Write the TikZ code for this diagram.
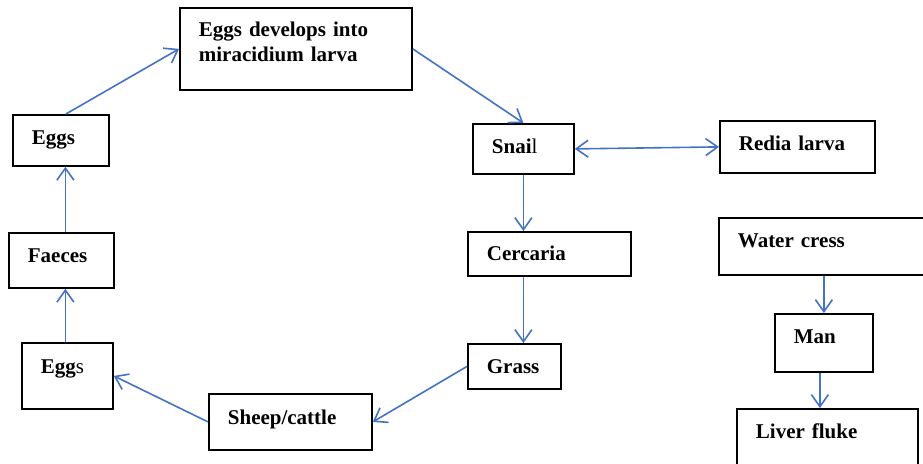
\documentclass[tikz,border=0pt]{standalone}
\usepackage{fontspec}
\setmainfont{Liberation Serif}
\usepackage{xcolor}
\definecolor{cycleblue}{RGB}{68,114,196}
\usepackage{tikz}
\usetikzlibrary{arrows.meta,positioning,calc}

\begin{document}
\begin{tikzpicture}[
  x=1pt, y=1pt,
  stage/.style={rectangle,draw=black,fill=white,line width=1.8pt,
                font=\fontsize{21}{25}\selectfont\bfseries,
                anchor=north west, inner xsep=19pt, inner ysep=0pt,
                align=left, text height=30pt},
  flow/.style={draw=cycleblue, line width=1.6pt,
               -{Straight Barb[length=12pt,width=17pt,line width=1.6pt]}},
  both/.style={flow,
               {Straight Barb[length=12pt,width=17pt,line width=1.6pt]}-{Straight Barb[length=12pt,width=17pt,line width=1.6pt]}},
]
  \useasboundingbox (0,0) rectangle (923,-463);

  %% Cycle in the snail
  \node[stage,text width=194pt,text height=29pt,text depth=53pt](larva) at (179,-7)
    {Eggs develops into\\miracidium larva};
  \node[stage,text width=63pt,text depth=20pt](snail) at (472,-123)
    {Snai{\mdseries l}};
  \node[stage,text width=117pt,text depth=22pt](redia) at (719,-120)
    {Redia larva};
  \node[stage,text width=125pt,text height=29pt,text depth=15pt](cercaria) at (467,-231)
    {Cercaria};

  %% Cycle in the host
  \node[stage,text width=55pt,text depth=15pt](grass) at (467,-343)
    {Grass};
  \node[stage,text width=125pt,text height=31pt,text depth=25pt](sheep) at (208,-393)
    {Sheep/cattle};
  \node[stage,text width=53pt,text height=31pt,text depth=35pt](eggsB) at (21,-342)
    {Egg{\mdseries s}};
  \node[stage,text width=67pt,text depth=25pt](faeces) at (8,-232)
    {Faeces};
  \node[stage,text width=58pt,text depth=21pt](eggsA) at (12,-114)
    {Eggs};

  %% Infection of man
  \node[stage,text width=172pt,text depth=27pt](cress) at (718,-217)
    {Water cress};
  \node[stage,text width=60pt,text depth=28pt](man) at (774,-313)
    {Man};
  \node[stage,text width=143pt,text depth=40pt](fluke) at (736,-408)
    {Liver fluke};

  %% Arrows
  \draw[flow] ([xshift=5pt]eggsA.north) -- (larva.west);
  \draw[flow] (larva.east) -- (snail.north);
  \draw[both] (snail.east) -- (redia.west);
  \draw[flow] (snail.south) -- (snail.south |- cercaria.north);
  \draw[flow] (snail.south |- cercaria.south) -- (snail.south |- grass.north);
  \draw[flow] (grass.west) -- (sheep.east);
  \draw[flow] (sheep.west) -- (eggsB.east);
  \draw[flow] ([xshift=-2pt]eggsB.north) -- ([xshift=-2pt]eggsB.north |- faeces.south);
  \draw[flow] ([xshift=-2pt]eggsB.north |- faeces.north) -- ([xshift=-2pt]eggsB.north |- eggsA.south);
  \draw[flow] (cress.south) -- (cress.south |- man.north);
  \draw[flow] ([xshift=-4pt]man.south) -- ([xshift=-4pt]man.south |- fluke.north);
\end{tikzpicture}
\end{document}
